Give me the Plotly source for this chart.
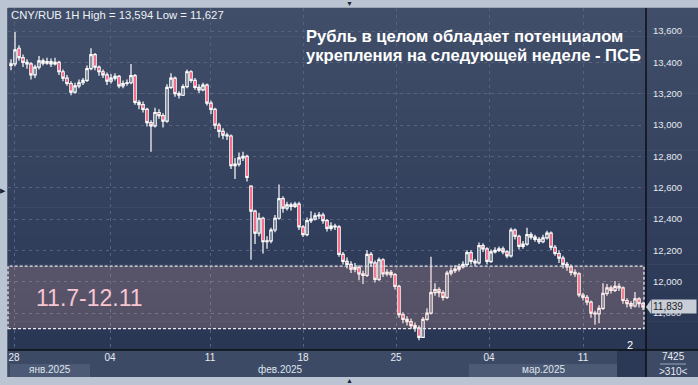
import plotly.graph_objects as go

# ---------------- data ----------------
opens = [
    13380, 13390, 13490, 13430, 13400, 13390, 13320, 13370, 13410, 13395,
    13405, 13390, 13400, 13340, 13300, 13265, 13210, 13250, 13270, 13285,
    13360, 13450, 13370, 13340, 13320, 13280, 13300, 13310, 13250, 13265,
    13270, 13315, 13145, 13130, 13100, 13015, 12995, 13080, 13060, 13025,
    13240, 13300, 13200, 13190, 13245, 13340, 13285, 13240, 13225, 13255,
    13140, 13100, 13000, 12960, 12935, 12930, 12740, 12750, 12790, 12800,
    12610, 12450, 12310, 12405, 12255, 12260, 12330, 12405, 12530, 12470,
    12490, 12480, 12495, 12350, 12300, 12390, 12400, 12420, 12425, 12390,
    12340, 12355, 12350, 12175, 12130, 12110, 12080, 12090, 12050, 12040,
    12175, 12120, 12015, 12140, 12050, 12060, 12045, 11970, 11790, 11760,
    11745, 11720, 11705, 11645, 11760, 11800, 11930, 11950, 11930, 11900,
    12055, 12070, 12080, 12095, 12110, 12185, 12130, 12120, 12230, 12210,
    12130, 12190, 12200, 12210, 12190, 12165, 12330, 12290, 12225, 12240,
    12300, 12285, 12270, 12255, 12280, 12310, 12220, 12180, 12150, 12110,
    12095, 12060, 12050, 11915, 11900, 11870, 11800, 11795, 11830, 11925,
    11960, 11945, 11970, 11960, 11880, 11860, 11845, 11890, 11860,
]
highs = [
    13420, 13594, 13510, 13450, 13420, 13400, 13385, 13440, 13425, 13430,
    13425, 13430, 13410, 13355, 13320, 13280, 13270, 13290, 13300, 13380,
    13490, 13460, 13380, 13355, 13335, 13325, 13330, 13320, 13285, 13290,
    13390, 13325, 13160, 13150, 13110, 13030, 13110, 13100, 13075, 13260,
    13330, 13310, 13215, 13260, 13355, 13350, 13300, 13260, 13270, 13265,
    13155, 13110, 13015, 12980, 12950, 12940, 12790, 12825, 12830, 12810,
    12615, 12460, 12440, 12415, 12290, 12345, 12425, 12620, 12545, 12510,
    12505, 12510, 12510, 12360, 12410, 12450, 12440, 12445, 12440, 12400,
    12380, 12370, 12360, 12190, 12155, 12130, 12120, 12105, 12070, 12200,
    12190, 12135, 12155, 12150, 12080, 12075, 12055, 11980, 11805, 11780,
    11765, 11740, 11720, 11775, 11830, 12160, 11990, 11965, 11945, 12070,
    12090, 12105, 12115, 12130, 12200, 12200, 12145, 12250, 12245, 12220,
    12205, 12220, 12225, 12225, 12200, 12345, 12340, 12300, 12260, 12345,
    12315, 12300, 12285, 12300, 12325, 12320, 12235, 12200, 12165, 12125,
    12110, 12080, 12060, 11930, 11915, 11880, 11815, 11850, 11990, 11985,
    11975, 12005, 11990, 11970, 11895, 11875, 11935, 11900, 11870,
]
lows = [
    13350, 13375, 13410, 13370, 13360, 13290, 13300, 13355, 13380, 13385,
    13370, 13380, 13320, 13280, 13250, 13190, 13200, 13235, 13255, 13275,
    13350, 13350, 13315, 13300, 13255, 13265, 13285, 13235, 13235, 13250,
    13260, 13130, 13100, 13080, 12990, 12830, 12985, 13040, 12985, 13015,
    13230, 13180, 13170, 13185, 13235, 13270, 13225, 13205, 13215, 13125,
    13070, 12975, 12920, 12910, 12905, 12720, 12655, 12735, 12770, 12640,
    12140, 12240, 12290, 12180, 12210, 12245, 12315, 12395, 12440, 12455,
    12455, 12470, 12330, 12285, 12290, 12375, 12390, 12400, 12370, 12320,
    12325, 12330, 12160, 12110, 12085, 12055, 12060, 12010, 11985, 12030,
    12100, 11995, 12005, 12030, 12035, 12025, 11950, 11770, 11735, 11720,
    11700, 11680, 11627, 11640, 11750, 11790, 11910, 11900, 11880, 11890,
    12040, 12055, 12065, 12085, 12100, 12110, 12100, 12110, 12190, 12110,
    12120, 12180, 12190, 12175, 12150, 12155, 12270, 12205, 12210, 12230,
    12270, 12255, 12240, 12245, 12270, 12200, 12165, 12120, 12085, 12070,
    12040, 12030, 11900, 11880, 11850, 11770, 11725, 11735, 11820, 11910,
    11925, 11935, 11940, 11860, 11835, 11825, 11835, 11835, 11820,
]
closes = [
    13390, 13480, 13430, 13400, 13390, 13320, 13370, 13410, 13395, 13405,
    13390, 13400, 13340, 13300, 13265, 13210, 13250, 13270, 13285, 13360,
    13450, 13370, 13340, 13320, 13280, 13300, 13310, 13250, 13265, 13270,
    13315, 13145, 13130, 13100, 13015, 12995, 13080, 13060, 13025, 13240,
    13300, 13200, 13190, 13245, 13340, 13285, 13240, 13225, 13255, 13140,
    13100, 13000, 12960, 12935, 12930, 12740, 12750, 12790, 12800, 12665,
    12450, 12310, 12405, 12255, 12260, 12330, 12405, 12530, 12470, 12490,
    12480, 12495, 12350, 12300, 12390, 12400, 12420, 12425, 12390, 12340,
    12355, 12350, 12175, 12130, 12110, 12080, 12090, 12050, 12040, 12175,
    12120, 12015, 12140, 12050, 12060, 12045, 11970, 11790, 11760, 11745,
    11720, 11705, 11645, 11760, 11800, 11930, 11950, 11930, 11900, 12055,
    12070, 12080, 12095, 12110, 12185, 12130, 12120, 12230, 12210, 12130,
    12190, 12200, 12210, 12190, 12165, 12330, 12290, 12225, 12240, 12300,
    12285, 12270, 12255, 12280, 12310, 12220, 12180, 12150, 12110, 12095,
    12060, 12050, 11915, 11900, 11870, 11800, 11795, 11830, 11925, 11960,
    11945, 11970, 11960, 11880, 11860, 11845, 11890, 11860, 11839,
]
bar_index = list(range(len(closes)))

day_tick_pos = [0.75, 24.75, 49.75, 73, 96.25, 119.5, 143]
day_tick_labels = ["28", "04", "11", "18", "25", "04", "11"]
month_labels = ["янв.2025", "фев.2025", "мар.2025"]
y_tick_vals = [11800, 12000, 12200, 12400, 12600, 12800, 13000, 13200, 13400, 13600]

zone_low, zone_high = 11700, 12100
zone_label = "11.7-12.11"
last_price = 11839
title_lines = ["Рубль в целом обладает потенциалом", "укрепления на следующей неделе - ПСБ"]
header_text = "CNY/RUB 1H High = 13,594 Low = 11,627"

# ---------------- geometry helpers (pixel -> paper) ----------------
W, H = 698, 385
L, R, T, B = 8, 52, 8, 35
PW, PH = W - L - R, H - T - B


def xp(px):
    return (px - L) / PW


def yp(py):
    return (H - B - py) / PH


fig = go.Figure()
fig.add_trace(go.Candlestick(
    x=bar_index, open=opens, high=highs, low=lows, close=closes,
    increasing=dict(line=dict(color="#ffffff", width=1.2), fillcolor="rgba(0,0,0,0)"),
    decreasing=dict(line=dict(color="#ffffff", width=1.2), fillcolor="#e8103c"),
    whiskerwidth=0, showlegend=False, hoverinfo="skip",
))

shapes = []
# gradient background (plot + right axis)
top_c = (64, 78, 105)
bot_c = (41, 55, 85)
N = 24
for k in range(N):
    t0 = k / N
    t1 = (k + 1) / N
    tm = (t0 + t1) / 2
    c = tuple(int(round(top_c[j] * (1 - tm) + bot_c[j] * tm)) for j in range(3))
    shapes.append(dict(type="rect", xref="paper", yref="paper",
                       x0=0, x1=xp(W + 2), y0=1 - t0 + 0.001, y1=1 - t1 - 0.001,
                       fillcolor="rgb(%d,%d,%d)" % c, line=dict(width=0), layer="below"))
# bottom axis strip
shapes.append(dict(type="rect", xref="paper", yref="paper", x0=0, x1=xp(W + 2),
                   y0=yp(350), y1=yp(377), fillcolor="#3d4a66", line=dict(width=0), layer="below"))
shapes.append(dict(type="rect", xref="paper", yref="paper", x0=xp(10), x1=xp(90),
                   y0=yp(364), y1=yp(377), fillcolor="#4d5a75", line=dict(width=0), layer="below"))
shapes.append(dict(type="rect", xref="paper", yref="paper", x0=xp(469), x1=xp(617),
                   y0=yp(364), y1=yp(377), fillcolor="#4d5a75", line=dict(width=0), layer="below"))
shapes.append(dict(type="rect", xref="paper", yref="paper", x0=xp(617), x1=xp(646),
                   y0=yp(350), y1=yp(377), fillcolor="#2b3957", line=dict(width=0), layer="below"))
# frame lines
shapes.append(dict(type="line", xref="paper", yref="paper", x0=xp(646), x1=xp(646),
                   y0=yp(377), y1=yp(8), line=dict(color="#0d0f14", width=1.5)))
shapes.append(dict(type="line", xref="paper", yref="paper", x0=0, x1=xp(W + 2),
                   y0=yp(350), y1=yp(350), line=dict(color="#0d0f14", width=1.5)))
shapes.append(dict(type="line", xref="paper", yref="paper", x0=xp(7.5), x1=xp(7.5),
                   y0=yp(377), y1=yp(8), line=dict(color="#5c6677", width=1)))
shapes.append(dict(type="line", xref="paper", yref="paper", x0=xp(660), x1=xp(686),
                   y0=yp(364), y1=yp(364), line=dict(color="#9aa6ba", width=1)))
# support zone
shapes.append(dict(type="rect", xref="paper", yref="y", x0=0, x1=xp(644),
                   y0=zone_low, y1=zone_high, fillcolor="rgba(254,182,170,0.2)",
                   line=dict(color="#e8e8ee", width=1.3, dash="3px,2px"), layer="above"))
# last price pointer
shapes.append(dict(type="path", xref="paper", yref="y",
                   path="M %f,%f L %f,%f L %f,%f Z" % (xp(646), last_price, xp(651), last_price + 45,
                                                      xp(651), last_price - 45),
                   fillcolor="#c9cdd5", line=dict(width=0)))

FONT = "Liberation Sans"
annotations = [
    dict(text=header_text, xref="paper", yref="paper", x=xp(9), y=yp(15), xanchor="left",
         yanchor="middle", showarrow=False, font=dict(size=11.3, color="#eef1f6", family=FONT)),
    dict(text="<b>" + title_lines[0] + "</b>", xref="paper", yref="paper", x=xp(304), y=yp(36),
         xanchor="left", yanchor="middle", showarrow=False,
         font=dict(size=16.6, color="#ffffff", family=FONT)),
    dict(text="<b>" + title_lines[1] + "</b>", xref="paper", yref="paper", x=xp(304), y=yp(55),
         xanchor="left", yanchor="middle", showarrow=False,
         font=dict(size=16.6, color="#ffffff", family=FONT)),
    dict(text=zone_label, xref="paper", yref="paper", x=xp(34), y=yp(298), xanchor="left",
         yanchor="middle", showarrow=False, font=dict(size=23, color="#f7c6d0", family=FONT)),
    dict(text="{:,}".format(last_price), xref="paper", yref="y", x=xp(651), y=last_price,
         xanchor="left", yanchor="middle", showarrow=False, bgcolor="#c9cdd5", width=42,
         align="left", borderpad=1, font=dict(size=10, color="#1a1d28", family=FONT)),
    dict(text="7425", xref="paper", yref="paper", x=xp(673), y=yp(357), xanchor="center",
         yanchor="middle", showarrow=False, font=dict(size=10, color="#e8ecf3", family=FONT)),
    dict(text="&gt;310&lt;", xref="paper", yref="paper", x=xp(673), y=yp(371), xanchor="center",
         yanchor="middle", showarrow=False, font=dict(size=10, color="#e8ecf3", family=FONT)),
    dict(text="2", xref="paper", yref="paper", x=xp(630), y=yp(345), xanchor="center",
         yanchor="middle", showarrow=False, font=dict(size=11, color="#ffffff", family=FONT)),
    dict(text="▶", xref="paper", yref="paper", x=xp(3), y=yp(190), xanchor="center",
         yanchor="middle", showarrow=False, font=dict(size=7, color="#1b2230")),
    dict(text="▲", xref="paper", yref="paper", x=xp(349), y=yp(380), xanchor="center",
         yanchor="middle", showarrow=False, font=dict(size=7, color="#1b2230")),
    dict(text="▼", xref="paper", yref="paper", x=xp(349), y=yp(3), xanchor="center",
         yanchor="middle", showarrow=False, font=dict(size=7, color="#1b2230")),
]
month_px = [50, 280, 543]
for lbl, px in zip(month_labels, month_px):
    annotations.append(dict(text=lbl, xref="paper", yref="paper", x=xp(px), y=yp(370),
                            xanchor="center", yanchor="middle", showarrow=False,
                            font=dict(size=10, color="#dfe4ee", family=FONT)))

fig.update_layout(
    width=W, height=H, autosize=False,
    margin=dict(l=L, r=R, t=T, b=B, pad=0),
    paper_bgcolor="#bac4d2", plot_bgcolor="rgba(0,0,0,0)",
    shapes=shapes, annotations=annotations, showlegend=False,
    boxgap=0.15,
    xaxis=dict(range=[-0.75, 158.75], rangeslider=dict(visible=False), tickmode="array",
               tickvals=day_tick_pos, ticktext=day_tick_labels, showgrid=True,
               gridcolor="#56637e", griddash="3px,4px", gridwidth=1, zeroline=False,
               ticks="", showline=False, tickfont=dict(size=10, color="#e6eaf1", family=FONT),
               fixedrange=True),
    yaxis=dict(range=[11564, 13747], side="right", tickmode="array", tickvals=y_tick_vals,
               tickformat=",d", showgrid=True, gridcolor="#56637e", griddash="3px,4px",
               gridwidth=1, zeroline=False, ticks="", showline=False, ticklabelstandoff=6,
               tickfont=dict(size=9.5, color="#e6eaf1", family=FONT), fixedrange=True),
)

fig.write_html("out.html", config={"displayModeBar": False},
               post_script="document.body.style.margin='0';document.body.style.padding='0';"
                           "document.body.style.overflow='hidden';")
